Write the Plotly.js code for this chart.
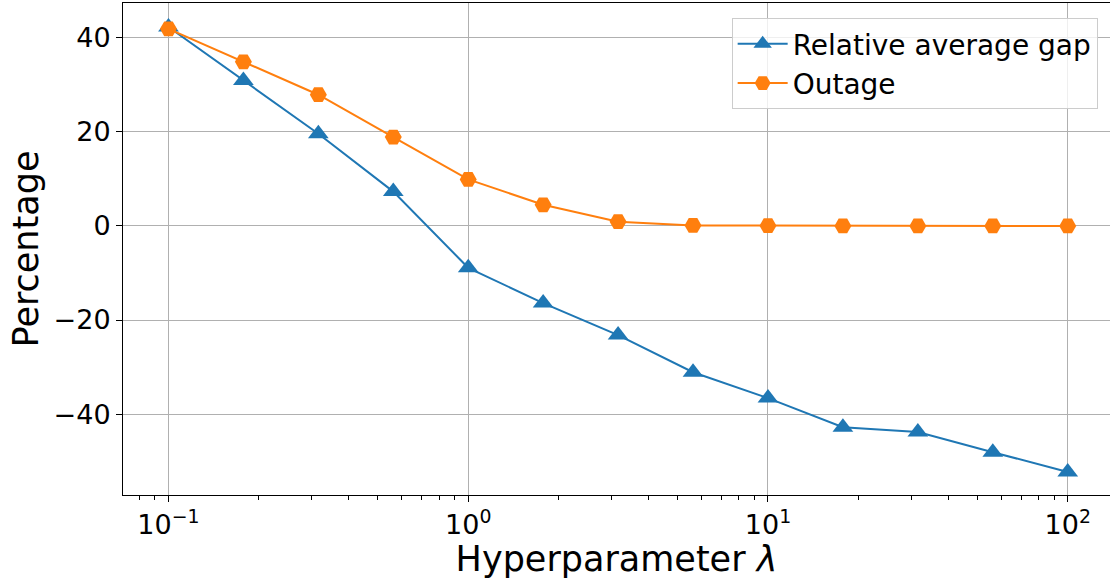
<!DOCTYPE html>
<html><head><meta charset="utf-8">
<script src="https://cdn.plot.ly/plotly-3.0.1.min.js"></script>
<style>html,body{margin:0;padding:0;background:#fff}#chart{width:1110px;height:579px}</style>
</head><body><div id="chart"></div>
<script>
const lambdas = [0.1, 0.1778, 0.3162, 0.5623, 1, 1.778, 3.162, 5.623, 10, 17.78, 31.62, 56.23, 100];
const relGap = [42.3, 30.9, 19.6, 7.3, -8.9, -16.4, -23.2, -31.1, -36.6, -42.8, -43.8, -48.1, -52.3];
const outage = [41.9, 34.9, 27.9, 18.9, 9.9, 4.5, 0.9, 0.1, 0.05, 0, 0, 0, 0];
const seriesNames = ["Relative average gap", "Outage"];
const xTickVals = [0.1, 1, 10, 100];
const xTickText = ["10<sup>−1</sup>", "10<sup>0</sup>", "10<sup>1</sup>", "10<sup>2</sup>"];
const yTickVals = [-40, -20, 0, 20, 40];
const yTickText = ["−40", "−20", "0", "20", "40"];

const minorVals = [];
[0.01, 0.1, 1, 10, 100].forEach(d => { for (let k = 2; k <= 9; k++) minorVals.push(d * k); });

const data = [
  {x: lambdas, y: relGap, name: seriesNames[0], mode: "lines+markers",
   line: {color: "#1f77b4", width: 2}, marker: {symbol: "triangle-up", size: 18, color: "#1f77b4"}},
  {x: lambdas, y: outage, name: seriesNames[1], mode: "lines+markers",
   line: {color: "#ff7f0e", width: 2}, marker: {symbol: "hexagon2", size: 17, color: "#ff7f0e"}}
];
const layout = {
  width: 1110, height: 579,
  margin: {l: 123, r: 0, t: 3, b: 84},
  paper_bgcolor: "#fff", plot_bgcolor: "#fff",
  font: {family: "DejaVu Sans", size: 27, color: "#000"},
  showlegend: true,
  legend: {x: 0.9875, y: 0.9695, xanchor: "right", yanchor: "top", bgcolor: "rgba(255,255,255,0.8)",
           bordercolor: "#cccccc", borderwidth: 1, font: {family: "DejaVu Sans", size: 28},
           itemwidth: 50, tracegroupgap: 0},
  xaxis: {type: "log", range: [-1.1517, 2.141],
          tickmode: "array", tickvals: xTickVals, ticktext: xTickText,
          ticks: "outside", ticklen: 6, tickwidth: 1, tickcolor: "#000",
          showgrid: true, gridcolor: "#b0b0b0", gridwidth: 1,
          showline: true, linecolor: "#000", linewidth: 1, mirror: true, zeroline: false,
          tickfont: {family: "DejaVu Sans", size: 27},
          minor: {tickmode: "array", tickvals: minorVals, ticks: "outside", ticklen: 3.5, tickcolor: "#000", showgrid: false},
          title: {text: "Hyperparameter <i>λ</i>", font: {family: "DejaVu Sans", size: 35}, standoff: 6}},
  yaxis: {range: [-57.2, 47.4], tickmode: "array", tickvals: yTickVals, ticktext: yTickText,
          ticks: "outside", ticklen: 6, tickwidth: 1, tickcolor: "#000",
          showgrid: true, gridcolor: "#b0b0b0", gridwidth: 1,
          showline: true, linecolor: "#000", linewidth: 1, mirror: true, zeroline: false,
          tickfont: {family: "DejaVu Sans", size: 27},
          title: {text: "Percentage", font: {family: "DejaVu Sans", size: 35}, standoff: 4}}
};
Plotly.newPlot("chart", data, layout, {displayModeBar: false, staticPlot: true});
</script></body></html>
